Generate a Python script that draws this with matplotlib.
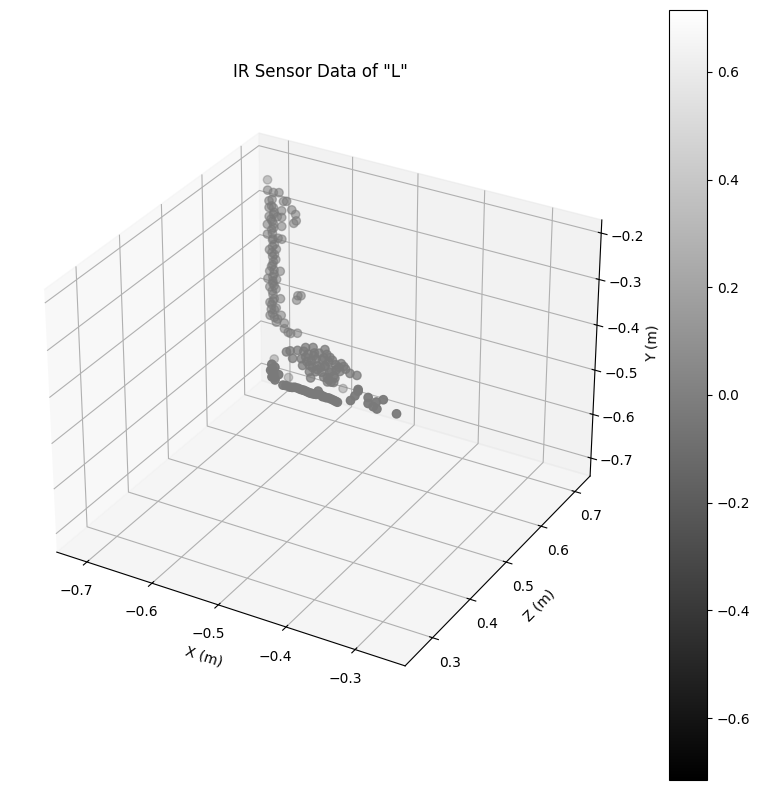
import matplotlib
matplotlib.use("Agg")
import matplotlib.pyplot as plt
from matplotlib.colors import Normalize

# metres. all the points sit near one depth plane
z_plane = 0.72
point_value = -0.03

# upright stroke of the L
stroke_x = [-.718, -.709, -.700, -.716, -.711, -.693, -.688, -.696, -.680, -.674, -.677, -.673, -.716, -.709,
            -.716, -.709, -.703, -.696, -.719, -.711, -.696, -.709, -.719, -.711, -.696, -.702, -.711, -.716, -.711,
            -.705, -.711, -.706, -.711, -.716, -.699, -.709, -.711, -.719, -.705, -.716, -.711, -.706, -.711, -.699,
            -.673, -.666, -.671, -.716, -.711, -.714, -.706, -.716, -.698, -.709, -.706, -.693, -.693, -.683, -.672,
            -.687,
            -.712, -.708, -.713, -.709, -.712, -.710, -.708, -.712, -.708, -.710, -.713, -.709, -.711, -.709, -.712,
            -.709, -.713, -.709, -.712, -.704]
stroke_y = [-.272, -.274, -.271, -.295, -.290, -.288, -.286, -.310, -.302, -.310, -.331, -.324, -.310, -.308,
            -.330, -.323, -.326, -.325, -.349, -.339, -.345, -.353, -.371, -.366, -.374, -.374, -.381, -.405, -.396,
            -.400, -.419, -.424, -.438, -.454, -.448, -.449, -.465, -.472, -.469, -.490, -.480, -.491, -.506, -.511,
            -.504, -.491, -.493, -.526, -.521, -.541, -.535, -.556, -.549, -.558, -.568, -.565, -.578, -.585, -.580,
            -.584,
            -.305, -.318, -.335, -.345, -.358, -.378, -.390, -.410, -.413, -.430, -.442, -.458, -.475, -.485, -.498,
            -.515, -.530, -.540, -.550, -.560]

# blob where the foot starts
blob_x = [-.684, -.690, -.672, -.680, -.659, -.647, -.628, -.666, -.659, -.646, -.630, -.620, -.664, -.653, -.640,
          -.628, -.611, -.598, -.588, -.577, -.653, -.643, -.633, -.620, -.604, -.651, -.624, -.614, -.624, -.614,
          -.662, -.655, -.650, -.645, -.642, -.637, -.635, -.632, -.628, -.625, -.622, -.618, -.616, -.612, -.610,
          -.606, -.630, -.622, -.618, -.648, -.657, -.640, -.602, -.595]
blob_y = [-.626, -.631, -.620, -.642, -.608, -.603, -.600, -.637, -.630, -.622, -.620, -.615, -.652, -.647, -.643,
          -.638, -.628, -.627, -.639, -.639, -.662, -.658, -.655, -.650, -.641, -.676, -.664, -.656, -.674, -.671,
          -.618, -.622, -.635, -.615, -.628, -.612, -.645, -.625, -.638, -.610, -.626, -.645, -.620, -.660, -.640,
          -.632, -.665, -.668, -.672, -.650, -.640, -.652, -.622, -.632]

# lower run of the foot and the loose points at its end
foot_x = [-.714, -.709, -.716, -.711, -.714, -.709, -.703, -.696, -.685, -.677, -.668, -.661, -.653,
          -.646, -.635, -.630, -.622, -.614, -.608, -.639, -.587, -.575, -.580, -.559, -.559, -.551, -.545,
          -.546, -.535, -.514, -.575,
          -.691, -.681, -.672, -.664, -.657, -.650, -.642, -.632, -.626, -.618, -.611, -.713, -.712, -.710]
foot_y = [-.670, -.675, -.685, -.691, -.700, -.705, -.690, -.712, -.712, -.709, -.710, -.710, -.712,
          -.712, -.709, -.711, -.711, -.713, -.715, -.702, -.702, -.675, -.688, -.683, -.697, -.701, -.704,
          -.688, -.678, -.702, -.671,
          -.711, -.711, -.709, -.710, -.711, -.712, -.711, -.712, -.712, -.712, -.714, -.680, -.695, -.700]

# the few pale points away from the rest
faint_x = [-.718, -.710, -.687, -.599]
faint_y = [-.249, -.656, -.690, -.679]

fig = plt.figure(figsize=(10, 10))
ax = fig.add_subplot(projection="3d")
for xs, ys, a in [(faint_x, faint_y, 0.4), (stroke_x, stroke_y, 0.55), (blob_x, blob_y, 0.75), (foot_x, foot_y, 0.95)]:
    ax.scatter(xs, z_plane, ys, c=[point_value] * len(xs), cmap="gray", vmin=-0.715, vmax=0.715, s=36,
               alpha=a, depthshade=False)
ax.set_xlim(-0.747, -0.229)
ax.set_ylim(0.229, 0.746)
ax.set_zlim(-0.7415, -0.172)
ax.set_xlabel("X (m)")
ax.set_ylabel("Z (m)")
ax.set_zlabel("Y (m)")
ax.set_title('IR Sensor Data of "L"')
fig.colorbar(plt.cm.ScalarMappable(norm=Normalize(-0.715, 0.715), cmap="gray"), ax=ax)
fig.savefig("out.png", dpi=100, bbox_inches="tight")
